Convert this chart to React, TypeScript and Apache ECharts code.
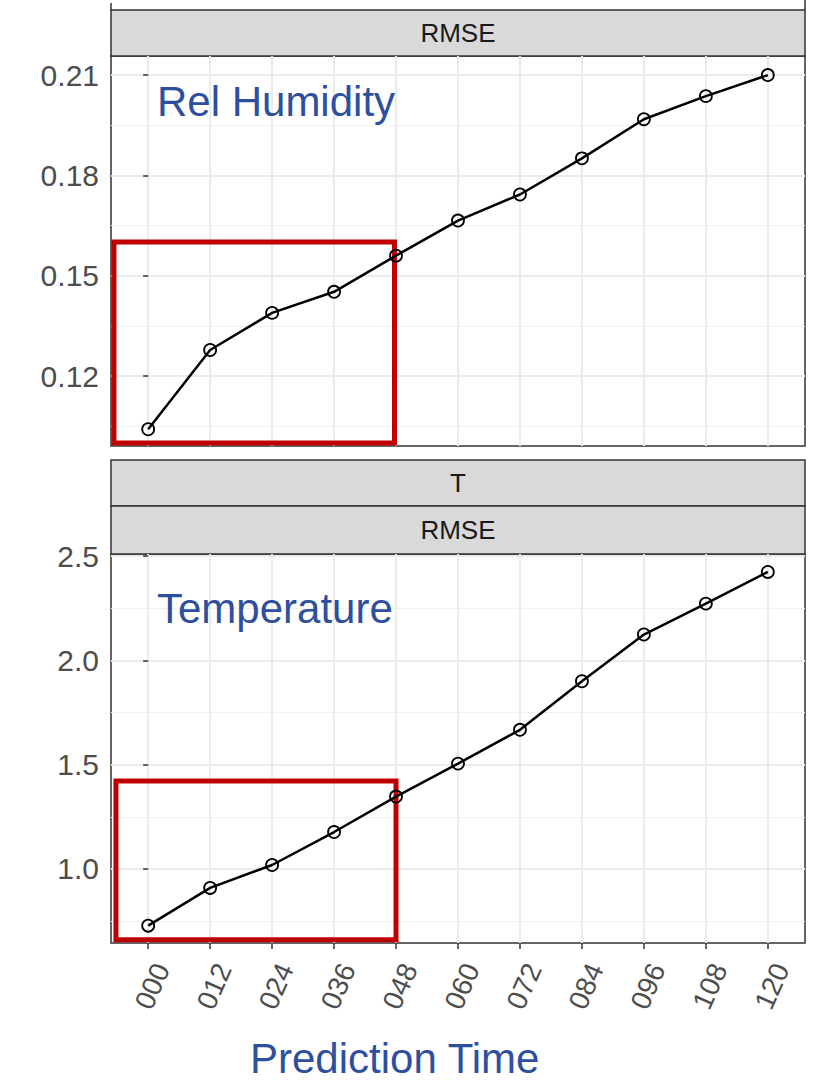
import React, { useEffect, useRef } from "react";
import * as echarts from "echarts";

const categories = ["000", "012", "024", "036", "048", "060", "072", "084", "096", "108", "120"];
const rhRmse = [0.1041, 0.1278, 0.1389, 0.1452, 0.156, 0.1665, 0.1743, 0.1851, 0.1968, 0.2037, 0.21];
const tRmse = [0.728, 0.909, 1.019, 1.177, 1.347, 1.505, 1.667, 1.9, 2.124, 2.272, 2.424];
const rhTicks = [0.12, 0.15, 0.18, 0.21];
const rhMinor = [0.105, 0.135, 0.165, 0.195];
const tTicks = [1.0, 1.5, 2.0, 2.5];
const tMinor = [0.75, 1.25, 1.75, 2.25];
const rhRange = [0.0991, 0.2157];
const tRange = [0.645, 2.51];
const rhHighlight = [[-0.552, 0.1], [3.975, 0.1601]];
const tHighlight = [[-0.52, 0.66], [4.0, 1.422]];
const stripTop = ["RMSE"];
const stripBottom = ["T", "RMSE"];
const xTitle = "Prediction Time";
const panelTitles = ["Rel Humidity", "Temperature"];

const FONT = '"Liberation Sans", Arial, Helvetica, sans-serif';
const BLUE = "#2E4F9E";
const idx = categories.map((_, i) => i);
const X_MIN = -0.6;
const X_MAX = 10.6;
// rotated tick labels sit slightly right of their tick in the original (ggplot hjust)
const LABEL_SHIFT = 0.22;

function buildOption() {
  const gridBase = {
    left: 111,
    width: 694,
    show: true,
    backgroundColor: "#ffffff",
    borderColor: "#333333",
    borderWidth: 1.5,
  };
  const xAxisFor = (g: number, showTicks: boolean) => ({
    type: "value",
    gridIndex: g,
    position: "bottom",
    min: X_MIN,
    max: X_MAX,
    axisLine: { show: false },
    axisTick: {
      show: showTicks,
      customValues: idx,
      length: 6,
      lineStyle: { color: "#333333", width: 1.5 },
    },
    axisLabel: { show: false, customValues: idx },
    splitLine: { show: true, lineStyle: { color: "#ebebeb", width: 2 } },
  });
  const xLabelAxis = {
    type: "value",
    gridIndex: 1,
    position: "bottom",
    min: X_MIN - LABEL_SHIFT,
    max: X_MAX - LABEL_SHIFT,
    axisLine: { show: false },
    axisTick: { show: false, customValues: idx },
    splitLine: { show: false },
    axisLabel: {
      show: true,
      customValues: idx,
      showMinLabel: true,
      showMaxLabel: true,
      formatter: (v: number) => categories[Math.round(v)],
      rotate: 66,
      fontSize: 28,
      color: "#4d4d4d",
      fontFamily: FONT,
      margin: 22,
    },
  };
  const yMajor = (g: number, range: number[], ticks: number[], digits: number) => ({
    type: "value",
    gridIndex: g,
    min: range[0],
    max: range[1],
    axisLine: { show: false },
    axisTick: {
      show: true,
      customValues: ticks,
      length: 5,
      lineStyle: { color: "#333333", width: 1.5 },
    },
    axisLabel: {
      show: true,
      customValues: ticks,
      formatter: (v: number) => v.toFixed(digits),
      fontSize: 30,
      color: "#4d4d4d",
      fontFamily: FONT,
      margin: 12,
    },
    splitLine: { show: true, lineStyle: { color: "#ebebeb", width: 2 } },
  });
  const yMinor = (g: number, range: number[], minor: number[]) => ({
    type: "value",
    gridIndex: g,
    position: "left",
    min: range[0],
    max: range[1],
    axisLine: { show: false },
    axisTick: { show: false, customValues: minor },
    axisLabel: { show: false, customValues: minor },
    splitLine: { show: true, lineStyle: { color: "#f0f0f0", width: 1 } },
  });
  const seriesFor = (g: number, yIdx: number, values: number[], box: number[][]) => ({
    type: "line",
    xAxisIndex: g,
    yAxisIndex: yIdx,
    data: values.map((v, i) => [i, v]),
    symbol: "circle",
    symbolSize: 12,
    itemStyle: { color: "rgba(0,0,0,0)", borderColor: "#000000", borderWidth: 1.8 },
    lineStyle: { color: "#000000", width: 2.5 },
    emphasis: { disabled: true },
    z: 5,
    markArea: {
      silent: true,
      itemStyle: { color: "rgba(0,0,0,0)", borderColor: "#C00000", borderWidth: 5 },
      label: { show: false },
      data: [[{ coord: box[0] }, { coord: box[1] }]],
    },
  });

  const strip = (y: number, h: number, label: string) => ({
    type: "group",
    children: [
      {
        type: "rect",
        shape: { x: 111, y, width: 694, height: h },
        style: { fill: "#d9d9d9", stroke: "#333333", lineWidth: 1.5 },
      },
      {
        type: "text",
        style: {
          text: label,
          x: 458,
          y: y + h / 2,
          font: `26px ${FONT}`,
          fill: "#1a1a1a",
          align: "center",
          verticalAlign: "middle",
          textAlign: "center",
          textVerticalAlign: "middle",
        },
      },
    ],
  });
  const title = (x: number, y: number, text: string) => ({
    type: "text",
    style: {
      text,
      x,
      y,
      font: `42px ${FONT}`,
      fill: BLUE,
      align: "left",
      verticalAlign: "middle",
      textAlign: "left",
      textVerticalAlign: "middle",
    },
    z: 20,
  });

  return {
    animation: false,
    backgroundColor: "#ffffff",
    textStyle: { fontFamily: FONT },
    grid: [
      { ...gridBase, top: 56, height: 390 },
      { ...gridBase, top: 554, height: 389 },
    ],
    xAxis: [xAxisFor(0, false), xAxisFor(1, true), xLabelAxis],
    yAxis: [
      yMajor(0, rhRange, rhTicks, 2),
      yMinor(0, rhRange, rhMinor),
      yMajor(1, tRange, tTicks, 1),
      yMinor(1, tRange, tMinor),
    ],
    series: [seriesFor(0, 0, rhRmse, rhHighlight), seriesFor(1, 2, tRmse, tHighlight)],
    graphic: [
      {
        type: "line",
        shape: { x1: 111, y1: 3, x2: 111, y2: 10 },
        style: { stroke: "#333333", lineWidth: 1.5 },
      },
      {
        type: "line",
        shape: { x1: 805, y1: 0, x2: 805, y2: 10 },
        style: { stroke: "#333333", lineWidth: 1.5 },
      },
      strip(10, 46, stripTop[0]),
      strip(460, 46, stripBottom[0]),
      strip(506, 48, stripBottom[1]),
      title(157, 101, panelTitles[0]),
      title(157, 608, panelTitles[1]),
      title(250, 1058, xTitle),
    ],
  };
}

export default function App() {
  const ref = useRef<HTMLDivElement>(null);
  useEffect(() => {
    if (!ref.current) return;
    const chart = echarts.init(ref.current, undefined, { renderer: "svg" });
    chart.setOption(buildOption() as any);
    return () => chart.dispose();
  }, []);
  return (
    <div
      ref={ref}
      style={{ position: "fixed", left: 0, top: 0, width: 821, height: 1088, background: "#ffffff" }}
    />
  );
}
